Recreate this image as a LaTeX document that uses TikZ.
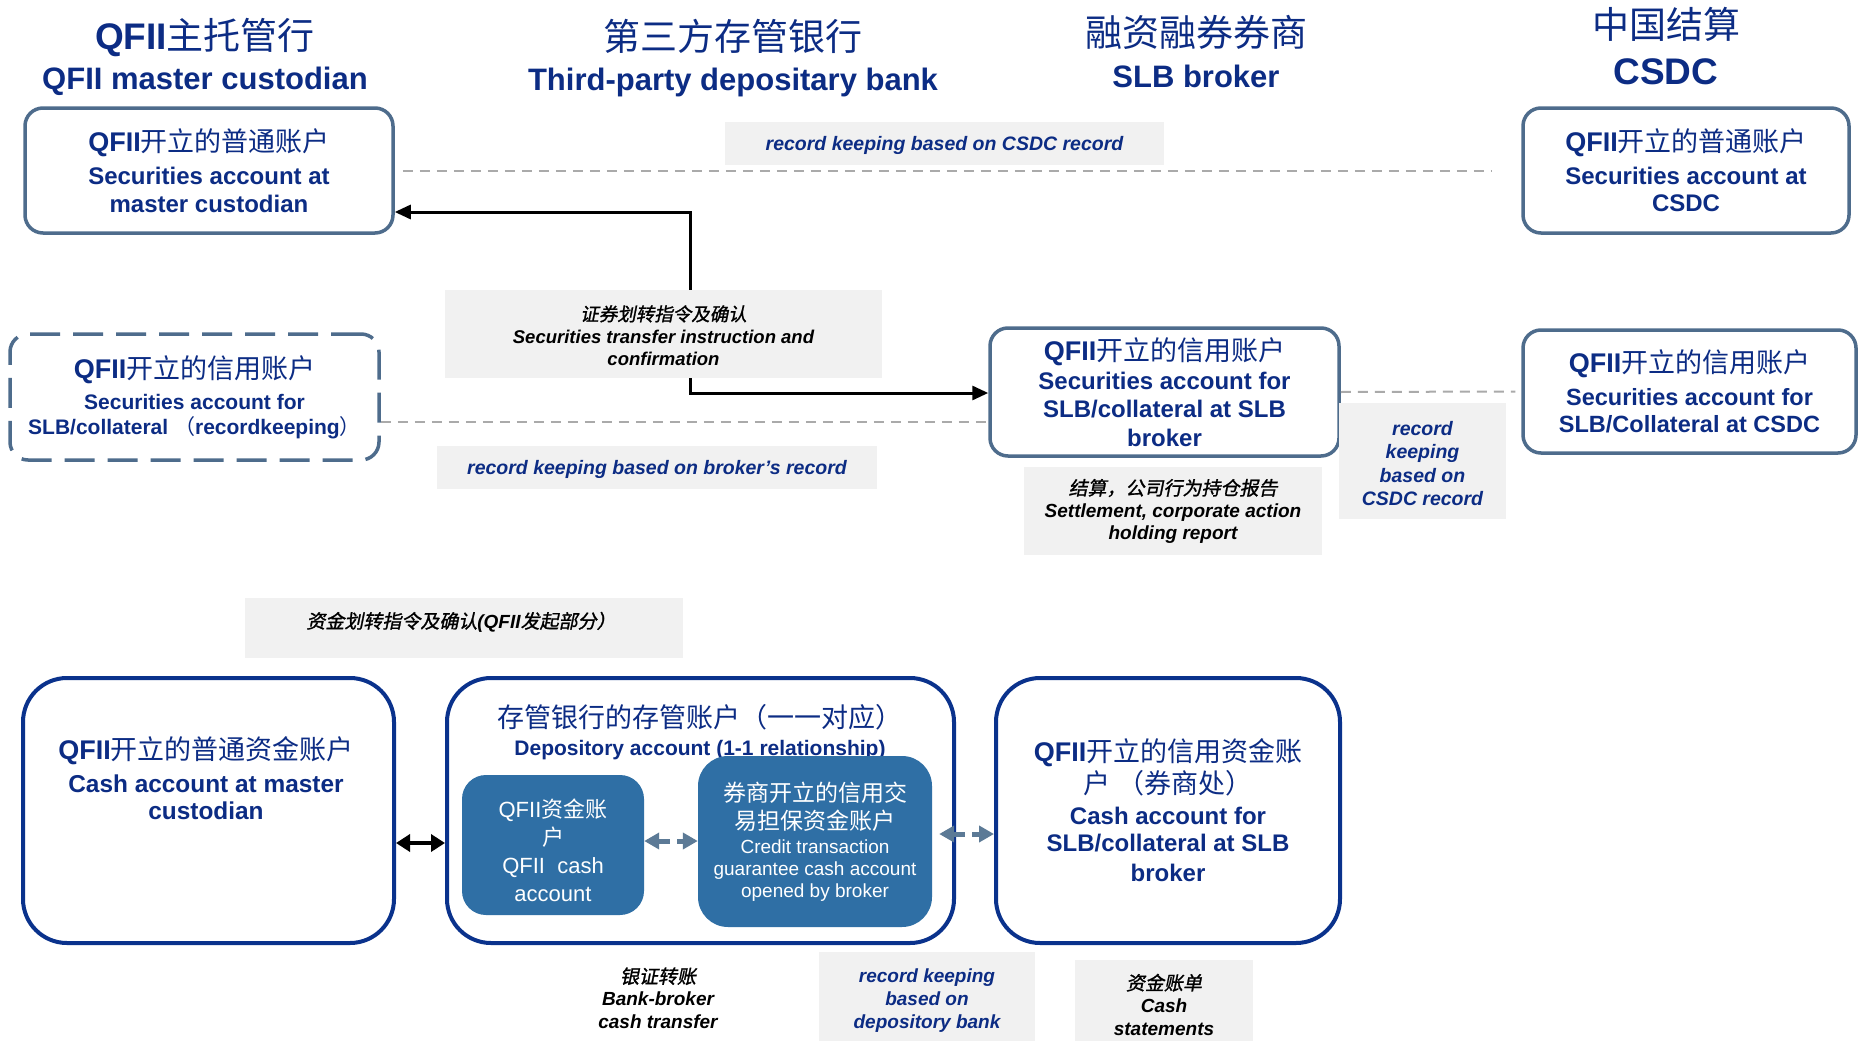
\documentclass[tikz,border=0pt]{standalone}
\usepackage{fontspec}
\setmainfont{Liberation Sans}
\newfontfamily\cjk{Noto Sans CJK SC}
\newfontfamily\cjki[FakeSlant=0.2,FakeBold=1.2]{Noto Sans CJK SC}
\usetikzlibrary{arrows.meta}
\definecolor{navy}{RGB}{12,44,132}
\definecolor{steel}{RGB}{78,108,140}
\definecolor{dblue}{RGB}{10,50,140}
\definecolor{ifill}{RGB}{47,111,165}
\definecolor{darrow}{RGB}{92,122,150}
\definecolor{lgrey}{RGB}{241,241,241}
\definecolor{dgrey}{RGB}{170,170,170}
\newcommand{\zh}[1]{{\cjk\mdseries\upshape #1}}
\newcommand{\zhi}[1]{{\cjki\mdseries\upshape #1}}
\newcommand{\myfs}[2]{\fontsize{#1}{#2}\selectfont}
\begin{document}
\begin{tikzpicture}[x=1pt,y=-1pt,
  hdr/.style={align=center, text=navy, inner sep=0pt},
  topbox/.style={draw=steel, line width=3.5pt, rounded corners=18pt, fill=white, align=center, text=navy, inner sep=0pt},
  dashbox/.style={topbox, dash pattern=on 30pt off 13pt},
  botbox/.style={draw=dblue, line width=4pt, rounded corners=44pt, fill=white, inner sep=0pt},
  txt/.style={align=center, text=navy, inner sep=0pt},
  innerbox/.style={fill=ifill, draw=none, rounded corners=24pt, align=center, text=white, inner sep=0pt},
  lbl/.style={fill=lgrey, align=center, inner sep=0pt},
  lbltxt/.style={align=center, inner sep=0pt},
  gline/.style={draw=dgrey, line width=2pt, dash pattern=on 10pt off 7pt},
  blk/.style={draw=black, line width=3pt},
  darr/.style={draw=darrow, line width=5pt, dash pattern=on 12pt off 7pt, {Triangle[length=15pt,width=16pt]}-{Triangle[length=15pt,width=16pt]}}
]
\useasboundingbox (0,0) rectangle (1858,1041);
\fill[white] (0,0) rectangle (1858,1041);

% headers
\node[hdr, font=\myfs{31}{40}\bfseries] (h1) at (205,57) {\myfs{37}{40}QFII\zh{主托管行}\\QFII master custodian};
\node[hdr, font=\myfs{31}{40}\bfseries] (h2) at (733,58) {\myfs{37}{40}\zh{第三方存管银行}\\Third-party depositary bank};
\node[hdr, font=\myfs{31}{41}\bfseries] (h3) at (1196,52) {\myfs{37}{41}\zh{融资融券券商}\\SLB broker};
\node[hdr, font=\myfs{37}{46}\bfseries] (h4) at (1666,46) {\zh{中国结算}\\CSDC};

% top securities boxes
\node[topbox, font=\myfs{24}{28}\bfseries, minimum width=368pt, minimum height=125pt] (A) at (209,170.5)
  {\myfs{27}{28}QFII\zh{开立的普通账户}\\[5pt]Securities account at\\master custodian};
\node[topbox, font=\myfs{24}{27}\bfseries, minimum width=326pt, minimum height=125pt] (B) at (1686,170.5)
  {\myfs{27}{27}QFII\zh{开立的普通账户}\\[6pt]Securities account at\\CSDC};
\node[dashbox, font=\myfs{21}{25}\bfseries, minimum width=369pt, minimum height=126pt] (C) at (194.5,397)
  {\myfs{27}{25}QFII\zh{开立的信用账户}\\[6pt]Securities account for\\SLB/collateral \zh{（}recordkeeping\zh{）}};
\node[topbox, font=\myfs{24}{28.5}\bfseries, minimum width=349pt, minimum height=128pt] (D) at (1164.5,392)
  {\myfs{27}{28.5}QFII\zh{开立的信用账户}\\Securities account for\\SLB/collateral at SLB\\broker};
\node[topbox, font=\myfs{23.5}{27}\bfseries, minimum width=333pt, minimum height=123pt] (E) at (1689.5,391.5)
  {\myfs{27}{27}QFII\zh{开立的信用账户}\\[6pt]Securities account for\\SLB/Collateral at CSDC};

% bottom cash boxes
\node[botbox, minimum width=371pt, minimum height=265pt] (F) at (208.5,810.5) {};
\node[txt, font=\myfs{24.4}{27}\bfseries] (Ft) at (206,778)
  {\myfs{27}{27}QFII\zh{开立的普通资金账户}\\[5.6pt]Cash account at master\\custodian};
\node[botbox, minimum width=507pt, minimum height=265pt] (G) at (700.5,810.5) {};
\node[txt, font=\myfs{21}{27.6}\bfseries] (Gt) at (700,732)
  {\myfs{27}{27.6}\zh{存管银行的存管账户（一一对应）}\\Depository account (1-1 relationship)};
\node[innerbox, font=\myfs{22}{28}, minimum width=182pt, minimum height=140pt] (G1) at (553,845)
  {\rule{0pt}{30pt}QFII\zh{资金账}\\\zh{户}\\QFII\ \ cash\\account};
\node[innerbox, font=\myfs{19}{24}, rounded corners=30pt, minimum width=234pt, minimum height=171pt] (G2) at (815,841.5)
  {\myfs{23}{24}\zh{券商开立的信用交}\\[4pt]\myfs{23}{24}\zh{易担保资金账户}\\Credit transaction\\[-2pt]guarantee cash account\\[-2pt]opened by broker};
\node[botbox, align=center, text=navy, font=\myfs{24}{30}\bfseries, minimum width=344pt, minimum height=265pt] (H) at (1168,810.5)
  {\myfs{27}{30}QFII\zh{开立的信用资金账}\\[2pt]\myfs{27}{30}\zh{户\ （券商处）}\\[1pt]Cash account for\\[-3pt]SLB/collateral at SLB\\broker};

% grey labels
\node[lbl, text=navy, font=\myfs{19.5}{23}\bfseries\itshape, minimum width=439pt, minimum height=43pt] (L1) at (944.5,143.5)
  {\rule{0pt}{19pt}record keeping based on CSDC record};
\node[lbl, font=\myfs{18.5}{22.5}\bfseries\itshape, minimum width=437pt, minimum height=88pt] (L2) at (663.5,334)
  {\rule{0pt}{19pt}\zhi{证券划转指令及确认}\\Securities transfer instruction and\\confirmation};
\node[lbl, text=navy, font=\myfs{19.5}{23}\bfseries\itshape, minimum width=440pt, minimum height=43pt] (L3) at (657,467.5)
  {\rule{0pt}{19pt}record keeping based on broker’s record};
\node[lbl, font=\myfs{19}{22}\bfseries\itshape, minimum width=298pt, minimum height=88pt] (L4) at (1173,511)
  {\zhi{结算，公司行为持仓报告}\\Settlement, corporate action\\holding report};
\node[lbl, text=navy, font=\myfs{19.5}{23.3}\bfseries\itshape, minimum width=167pt, minimum height=116pt] (L5) at (1422.5,461)
  {\rule{0pt}{19pt}record\\keeping\\based on\\CSDC record};
\node[lbl, minimum width=438pt, minimum height=60pt] (L6) at (464,628) {};
\node[lbltxt, font=\myfs{19}{23}\bfseries\itshape] (L6t) at (461,622) {\zhi{资金划转指令及确认}(QFII\zhi{发起部分）}};
\node[lbltxt, font=\myfs{19}{22.5}\bfseries\itshape] (L7) at (658,998) {\zhi{银证转账}\\Bank-broker\\cash transfer};
\node[lbl, text=navy, font=\myfs{19}{23}\bfseries\itshape, minimum width=216pt, minimum height=98pt] (L8) at (927,1001)
  {record keeping\\based on\\depository bank};
\node[lbl, font=\myfs{19}{23}\bfseries\itshape, minimum width=178pt, minimum height=90pt] (L9) at (1164,1005)
  {\zhi{资金账单}\\Cash\\statements};

% connectors
\draw[gline] ([xshift=8pt]A.east) -- ([xshift=-30pt]B.west);
\draw[gline] (C.east |- 0,422) -- (D.west |- 0,422);
\draw[gline] (D.east) -- ([xshift=-6pt]E.west);
\draw[blk, -{Triangle[length=16pt,width=14pt]}] ([xshift=26.5pt]L2.north) |- (A.east |- 0,212);
\draw[blk, -{Triangle[length=16pt,width=14pt]}] ([xshift=26.5pt]L2.south) |- (D.west |- 0,393);
\draw[blk, line width=4pt, {Triangle[length=14pt,width=17pt]}-{Triangle[length=14pt,width=17pt]}] (F.east |- 0,843) -- (G.west |- 0,843);
\draw[darr] (G1.east |- 0,841) -- (G2.west |- 0,841);
\coordinate (g2r) at ([xshift=7pt]G2.east);
\draw[darr] (g2r |- 0,834) -- (H.west |- 0,834);
\end{tikzpicture}
\end{document}
